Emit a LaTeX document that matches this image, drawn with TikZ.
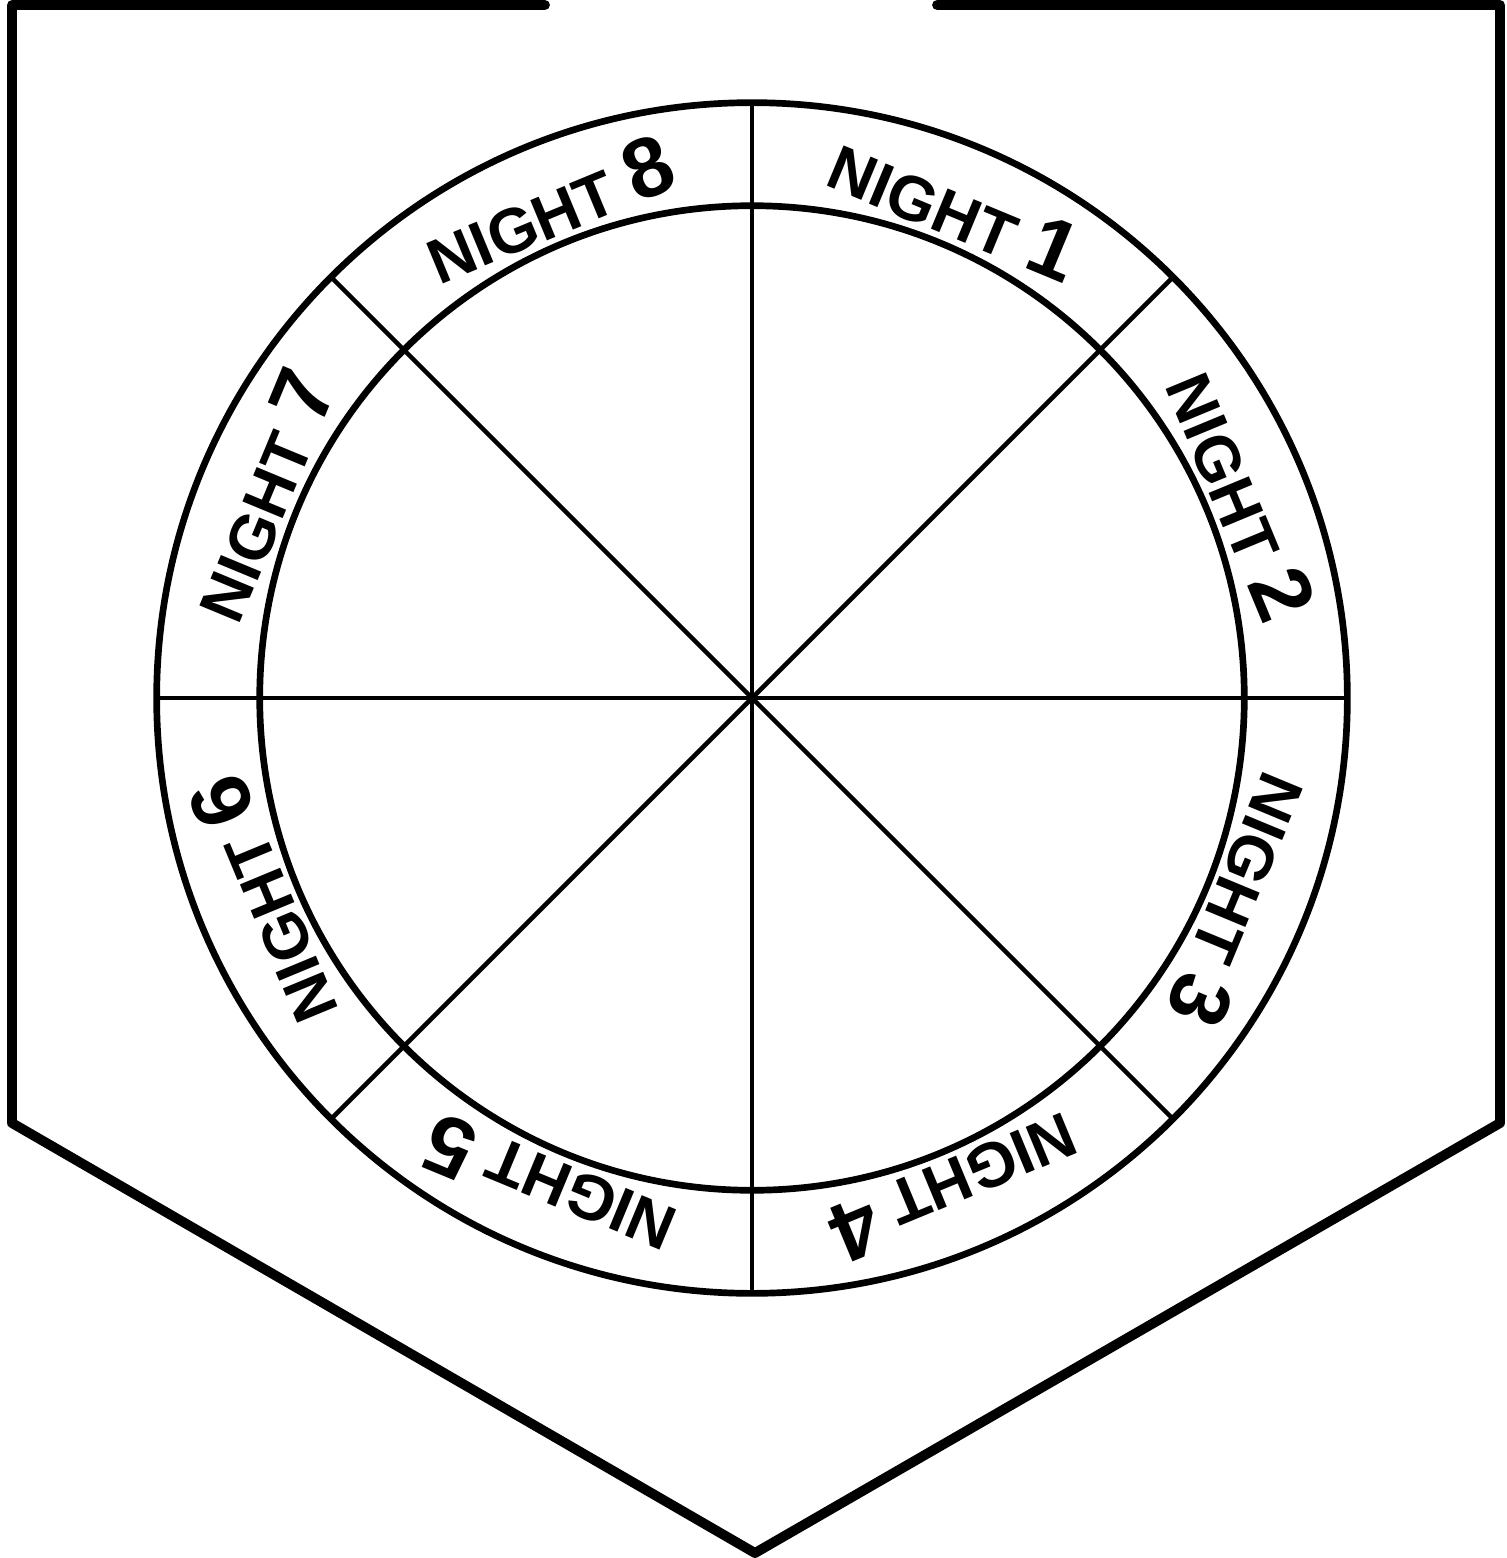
\documentclass[tikz,border=0pt]{standalone}
\usepackage{fontspec}
\setmainfont{Liberation Sans}
\usetikzlibrary{calc}
\tikzset{
  frame/.style={line width=2.8pt, line join=round, line cap=round},
  ring/.style={circle, draw, line width=1.9pt, inner sep=0pt, outer sep=0pt},
  spoke/.style={line width=1.3pt},
  lbl/.style={font=\bfseries\fontsize{18pt}{20pt}\selectfont, inner sep=1pt}
}
\newcommand{\dg}[1]{{\fontsize{24pt}{26pt}\selectfont #1}}
\begin{document}
\begin{tikzpicture}[x=0.01cm,y=0.01cm]
\useasboundingbox (0,0) rectangle (1506,-1558);
% pennant outline
\draw[frame] (545,-5) -- (12,-5) -- (12,-1123) -- (755,-1553) -- (1500,-1123) -- (1500,-5) -- (937,-5);
\coordinate (c) at (752,-698);
\node[ring, minimum size=11.9cm] (outer) at (c) {};
\node[ring, minimum size=9.84cm] (inner) at (c) {};
% spokes
\draw[spoke] (outer.90) -- (outer.270);
\draw[spoke] (outer.0) -- (outer.180);
\draw[spoke] (outer.45) -- (outer.225);
\draw[spoke] (outer.135) -- (outer.315);
% labels
\foreach \i/\a in {1/67.5, 2/22.5, 3/-22.5, 4/-67.5, 5/-112.5, 6/-157.5, 7/157.5, 8/112.5}{
  \node[lbl, rotate=\a-90] (n\i) at ($(c)+(\a:530)$) {NIGHT \dg{\i}};
}
\end{tikzpicture}
\end{document}
